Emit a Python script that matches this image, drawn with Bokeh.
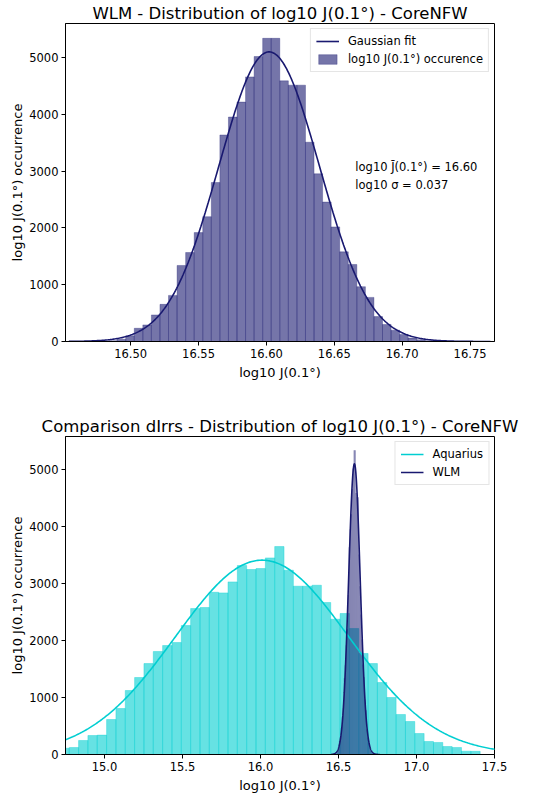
import numpy as np
from bokeh.plotting import figure
from bokeh.models import Range1d, FixedTicker, NumeralTickFormatter, Legend, LegendItem, Label
from bokeh.layouts import column
from bokeh.embed import file_html
from bokeh.resources import INLINE

# ---------------- data ----------------
# WLM histogram of log10 J(0.1 deg)
WLM_BIN_START = 16.48375
WLM_BIN_WIDTH = 0.006305
WLM_COUNTS = [15, 40, 100, 233, 292, 468, 654, 812, 1339, 1567, 1918, 2198,
              2800, 3637, 3953, 4216, 4660, 5018, 5339, 5339, 4590, 4514, 4514,
              3509, 2953, 2456, 2018, 1579, 1356, 965, 777, 439, 300, 200, 125,
              60, 30, 12]
# WLM Gaussian fit parameters
WLM_MEAN = 16.602
WLM_SIGMA = 0.037
WLM_PEAK = 5100
WLM_FIT_RANGE = [16.4545, 16.765]

# Aquarius histogram of log10 J(0.1 deg)
AQ_BIN_START = 14.714
AQ_BIN_WIDTH = 0.05987
AQ_COUNTS = [110, 123, 246, 333, 340, 614, 807, 1123, 1351, 1596, 1807, 1912,
             1965, 2263, 2561, 2579, 2847, 2836, 3029, 3316, 3246, 3263, 3450,
             3649, 3234, 2953, 2953, 2970, 2667, 2374, 2474, 2211, 1772, 1596,
             1263, 1000, 702, 579, 368, 228, 211, 140, 123, 58, 56]
# Aquarius Gaussian fit parameters
AQ_MEAN = 16.01
AQ_SIGMA = 0.555
AQ_PEAK = 3410
AQ_FIT_RANGE = [14.6, 17.6]

TOP_XTICKS = [16.50, 16.55, 16.60, 16.65, 16.70, 16.75]
BOT_XTICKS = [15.0, 15.5, 16.0, 16.5, 17.0, 17.5]
YTICKS = [0, 1000, 2000, 3000, 4000, 5000]

TITLE_TOP = "WLM - Distribution of log10 J(0.1°) - CoreNFW"
TITLE_BOT = "Comparison dIrrs - Distribution of log10 J(0.1°) - CoreNFW"
XLABEL = "log10 J(0.1°)"
YLABEL = "log10 J(0.1°) occurrence"
LEG_FIT = "Gaussian fit"
LEG_HIST = "log10 J(0.1°) occurence"
ANNOT_MEAN = "log10 J\u0304(0.1°) = 16.60"
ANNOT_SIGMA = "log10 σ = 0.037"

# ---------------- helpers ----------------
NAVY = "#191970"
TURQ = "#00ced1"
FONT = "DejaVu Sans"


def edges(start, width, counts):
    n = len(counts)
    left = start + width * np.arange(n)
    return left, left + width


def gauss(rng, mean, sigma, peak, n=400):
    x = np.linspace(rng[0], rng[1], n)
    return x, peak * np.exp(-0.5 * ((x - mean) / sigma) ** 2)


def style(p, xticks, fmt):
    p.title.text_font = FONT
    p.title.text_font_size = "16.5px"
    p.title.text_font_style = "normal"
    p.title.align = "center"
    p.title.text_color = "black"
    p.title.standoff = 2
    p.outline_line_color = "black"
    p.outline_line_width = 1
    p.grid.visible = False
    for ax in (p.xaxis[0], p.yaxis[0]):
        ax.axis_line_color = "black"
        ax.major_tick_line_color = "black"
        ax.major_tick_in = 0
        ax.major_tick_out = 4
        ax.minor_tick_line_color = None
        ax.major_label_text_font = FONT
        ax.major_label_text_font_size = "11.5px"
        ax.major_label_text_color = "black"
        ax.axis_label_text_font = FONT
        ax.axis_label_text_font_size = "13px"
        ax.axis_label_text_font_style = "normal"
        ax.axis_label_text_color = "black"
        ax.major_label_standoff = 3
        ax.axis_label_standoff = 4
    p.yaxis[0].axis_label_standoff = 1
    p.xaxis[0].ticker = FixedTicker(ticks=xticks)
    p.xaxis[0].formatter = NumeralTickFormatter(format=fmt)
    p.yaxis[0].ticker = FixedTicker(ticks=YTICKS)
    p.yaxis[0].formatter = NumeralTickFormatter(format="0")
    p.xaxis[0].axis_label = XLABEL
    p.yaxis[0].axis_label = YLABEL


def make_legend(items):
    return Legend(items=items, location="top_right",
                  border_line_color="#cccccc", border_line_width=1,
                  background_fill_alpha=1.0,
                  label_text_font=FONT, label_text_font_size="11.5px",
                  label_text_color="black",
                  glyph_width=23, glyph_height=12, label_height=14,
                  spacing=4, padding=5, margin=5, label_standoff=9)


wl, wr = edges(WLM_BIN_START, WLM_BIN_WIDTH, WLM_COUNTS)
al, ar = edges(AQ_BIN_START, AQ_BIN_WIDTH, AQ_COUNTS)
wx, wy = gauss(WLM_FIT_RANGE, WLM_MEAN, WLM_SIGMA, WLM_PEAK)
ax_, ay = gauss(AQ_FIT_RANGE, AQ_MEAN, AQ_SIGMA, AQ_PEAK)

# ---------------- top figure ----------------
p1 = figure(frame_width=429, frame_height=318, min_border_left=65,
            min_border_right=34, min_border_top=0, min_border_bottom=72,
            x_range=Range1d(16.452, 16.768), y_range=Range1d(0, 5600),
            title=TITLE_TOP, output_backend="svg", toolbar_location=None)
style(p1, TOP_XTICKS, "0.00")
bars1 = p1.quad(left=wl, right=wr, bottom=0, top=WLM_COUNTS,
                fill_color=NAVY, fill_alpha=0.6,
                line_color=NAVY, line_alpha=0.5, line_width=0.6)
line1 = p1.line(wx, wy, line_color=NAVY, line_width=1.6)
leg1 = make_legend([LegendItem(label=LEG_FIT, renderers=[line1]),
                    LegendItem(label=LEG_HIST, renderers=[bars1])])
p1.add_layout(leg1)
for txt, yv in ((ANNOT_MEAN, 3070), (ANNOT_SIGMA, 2760)):
    p1.add_layout(Label(x=16.6655, y=yv, text=txt, text_font=FONT,
                        text_font_size="11.5px", text_baseline="middle",
                        text_color="black"))

# ---------------- bottom figure ----------------
p2 = figure(frame_width=429, frame_height=318, min_border_left=65,
            min_border_right=34, min_border_top=0, min_border_bottom=40,
            x_range=Range1d(14.75, 17.5), y_range=Range1d(0, 5580),
            title=TITLE_BOT, output_backend="svg", toolbar_location=None)
style(p2, BOT_XTICKS, "0.0")
p2.quad(left=al, right=ar, bottom=0, top=AQ_COUNTS,
        fill_color=TURQ, fill_alpha=0.6,
        line_color=TURQ, line_alpha=0.6, line_width=0.6)
p2.quad(left=wl, right=wr, bottom=0, top=WLM_COUNTS,
        fill_color=NAVY, fill_alpha=0.6, line_color=None)
l_aq = p2.line(ax_, ay, line_color=TURQ, line_width=1.6)
l_wlm = p2.line(wx, wy, line_color=NAVY, line_width=1.6)
leg2 = make_legend([LegendItem(label="Aquarius", renderers=[l_aq]),
                    LegendItem(label="WLM", renderers=[l_wlm])])
p2.add_layout(leg2)

layout = column(p1, p2)
open("out.html", "w").write(file_html(layout, INLINE))
